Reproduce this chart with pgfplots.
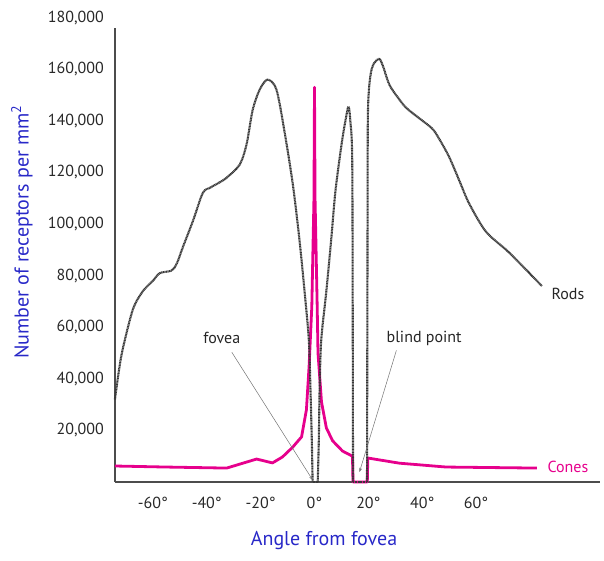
\documentclass[border=0pt]{standalone}
\usepackage{fontspec}
\setmainfont{PT Sans}
\usepackage{pgfplots}
\pgfplotsset{compat=1.18}
\usetikzlibrary{arrows.meta}
\definecolor{cone}{RGB}{230,0,140}
\definecolor{rod}{RGB}{55,55,55}
\definecolor{lblue}{RGB}{40,40,200}
\definecolor{tickc}{RGB}{40,40,40}
\begin{document}
\begin{tikzpicture}
\useasboundingbox (-115pt,-78pt) rectangle (489pt,482pt);
\begin{axis}[
  at={(0pt,0pt)}, anchor=south west,
  scale only axis, width=485pt, height=454pt,
  xmin=-74.07, xmax=106, ymin=0, ymax=176000,
  axis lines=left, axis line style={-, draw=black!70, line width=1.2pt},
  major tick length=0pt,
  scaled y ticks=false, scaled x ticks=false,
  xtick={-60,-40,-20,0,20,40,60},
  xticklabels={-60°,-40°,-20°,0°,20°,40°,60°},
  ytick={20000,40000,60000,80000,100000,120000,140000,160000},
  yticklabels={{20,000},{40,000},{60,000},{80,000},{100,000},{120,000},{140,000},{160,000}},
  tick label style={font=\fontsize{16}{18}\selectfont, text=tickc},
  yticklabel style={xshift=-7.7pt},
  xticklabel style={yshift=-12pt},
  xlabel={Angle from fovea},
  ylabel={Number of receptors per mm\textsuperscript{2}},
  label style={font=\fontsize{20}{24}\selectfont, text=lblue},
  xlabel style={at={(axis description cs:0.431,-0.1278)}, anchor=center},
  ylabel style={at={(axis description cs:-0.192,0.551)}, anchor=center},
  clip=false,
  rodstyle/.style={color=rod, line width=2.1pt, dash pattern=on 1.1pt off 0.5pt, line join=round},
]
% Cones
\addplot[color=cone, line width=2.8pt, line join=round] coordinates {
(-74.1,6200) (-55,5800) (-32.6,5400) (-21.5,8900) (-15.6,7400) (-11.9,9700)
(-8.1,13500) (-4.8,17500) (-3.0,28000) (-2.0,45000) (-1.0,68000) (-0.2,110000)
(0,153000) (0.2,110000) (1.0,68000) (1.3,50000) (2.6,31000) (4.4,21000)
(6.7,16000) (10.4,12000) (14.1,10000) (14.3,0) (19.6,0) (19.8,9300)
(31.5,7300) (48.9,5800) (82.6,5400)
};
% Rods (left of fovea)
\addplot[rodstyle, smooth, tension=0.5] coordinates {
(-74.1,32000) (-72.5,44000) (-71.1,52000) (-67.4,67000) (-63.7,74000) (-60,78000)
(-57.4,81000) (-53,82000) (-51,85000) (-48.9,91000) (-45.2,101000) (-41.5,112000)
(-38.9,114000) (-35.5,116000) (-32.6,118000) (-27.8,123000) (-25.2,131000)
(-23,144000) (-20.4,152000) (-17.4,156000) (-14.1,152000) (-11,135000)
(-8,115000) (-5.6,94000) (-3.7,74000) (-2.1,55000) (-1.5,36000) (-1,16000)
(-0.7,0)
};
\addplot[rodstyle] coordinates {(-0.7,0) (1.2,0)};
% Rods (between fovea and blind spot)
\addplot[rodstyle, smooth, tension=0.5] coordinates {
(1.2,0) (1.6,16000) (1.9,36000) (2.5,55000) (4.4,74000) (6.2,94000)
(7.8,113000) (10.2,132000) (12,143000) (12.7,145500) (13.3,140000) (14.0,125000)
(14.2,60000) (14.3,0)
};
\addplot[rodstyle] coordinates {(14.3,0) (19.5,0)};
% Rods (right of blind spot)
\addplot[rodstyle, smooth, tension=0.5] coordinates {
(19.5,0) (19.7,100000) (19.8,140000) (20.2,152000)
(21,159000) (22.2,162500) (24.1,164000) (25.5,161000) (27.8,154000) (31,149000)
(34.1,145000) (38.9,141000) (43.7,137000) (46.3,133000) (50,126000) (53.7,117000)
(57.4,108000) (63.7,97000) (72.2,89000) (84.4,76000)
};
% annotations
\draw[black!55, line width=0.5pt, -{Stealth[length=4pt,width=3pt]}] (axis cs:-30.7,50300) -- (axis cs:-0.7,800);
\draw[black!55, line width=0.5pt, -{Stealth[length=4pt,width=3pt]}] (axis cs:30.4,51000) -- (axis cs:16.7,3900);
\node[font=\fontsize{16}{18}\selectfont, text=black!85] at (axis cs:-34.4,56000) {fovea};
\node[font=\fontsize{16}{18}\selectfont, text=black!85] at (axis cs:40.7,55700) {blind point};
\node[font=\fontsize{16}{18}\selectfont, text=black!85] at (axis cs:94.1,73000) {Rods};
\node[font=\fontsize{16}{18}\selectfont, text=cone] at (axis cs:94.1,5800) {Cones};
\node[anchor=east, xshift=-7.7pt, font=\fontsize{16}{18}\selectfont, text=tickc] at (rel axis cs:0,1.02273) {180,000};
\end{axis}
\end{tikzpicture}
\end{document}
